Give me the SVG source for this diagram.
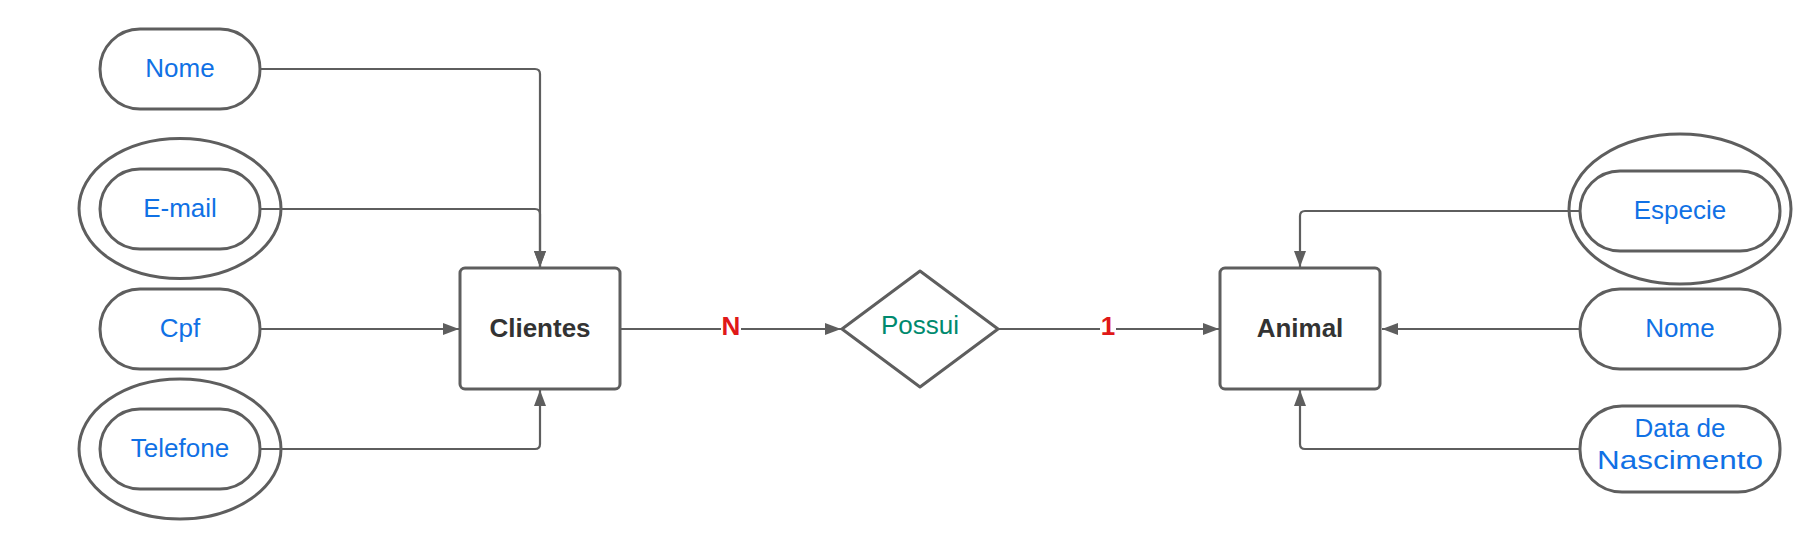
<svg xmlns="http://www.w3.org/2000/svg" width="1812" height="539" viewBox="0 0 1812 539">
<style>
.shape{fill:#fff;stroke:#5e5e5e;stroke-width:3}
.ring{fill:none;stroke:#5e5e5e;stroke-width:3}
.conn{fill:none;stroke:#5e5e5e;stroke-width:2.2}
.attr{font-family:"Liberation Sans",Arial,sans-serif;font-size:26px;fill:#1071e5;text-anchor:middle}
.ent{font-family:"Liberation Sans",Arial,sans-serif;font-size:26px;font-weight:bold;fill:#333;text-anchor:middle}
.rel{font-family:"Liberation Sans",Arial,sans-serif;font-size:26px;fill:#008a6e;text-anchor:middle}
.card{font-family:"Liberation Sans",Arial,sans-serif;font-size:26px;font-weight:bold;fill:#e01818;text-anchor:middle}
</style>
<defs>
<marker id="arr" markerUnits="userSpaceOnUse" markerWidth="17" markerHeight="13" refX="16" refY="6.5" orient="auto">
<path d="M0,0.5 L16,6.5 L0,12.5 z" fill="#5e5e5e"/>
</marker>
</defs>
<g id="connectors">
<path class="conn" d="M260 69 H535 Q540 69 540 74 V267" marker-end="url(#arr)"/>
<path class="conn" d="M260 209 H535 Q540 209 540 214 V267" marker-end="url(#arr)"/>
<path class="conn" d="M260 329 H459" marker-end="url(#arr)"/>
<path class="conn" d="M260 449 H535 Q540 449 540 444 V390" marker-end="url(#arr)"/>
<path class="conn" d="M620 329 H841" marker-end="url(#arr)"/>
<path class="conn" d="M998 329 H1219" marker-end="url(#arr)"/>
<path class="conn" d="M1580 211 H1305 Q1300 211 1300 216 V267" marker-end="url(#arr)"/>
<path class="conn" d="M1580 329 H1382" marker-end="url(#arr)"/>
<path class="conn" d="M1580 449 H1305 Q1300 449 1300 444 V390" marker-end="url(#arr)"/>
<rect x="721" y="312" width="20" height="26" fill="#fff"/>
<text class="card" x="731" y="335">N</text>
<rect x="1100" y="312" width="16" height="26" fill="#fff"/>
<text class="card" x="1108" y="335">1</text>
</g>
<g id="nome-cliente">
<rect class="shape" x="100" y="29" width="160" height="80" rx="40"/>
<text class="attr" x="180" y="77">Nome</text>
</g>
<g id="email">
<ellipse class="ring" cx="180" cy="208.5" rx="101" ry="70"/>
<rect class="shape" x="100" y="169" width="160" height="80" rx="40"/>
<text class="attr" x="180" y="217">E-mail</text>
</g>
<g id="cpf">
<rect class="shape" x="100" y="289" width="160" height="80" rx="40"/>
<text class="attr" x="180" y="337">Cpf</text>
</g>
<g id="telefone">
<ellipse class="ring" cx="180" cy="449" rx="101" ry="70"/>
<rect class="shape" x="100" y="409" width="160" height="80" rx="40"/>
<text class="attr" x="180" y="457">Telefone</text>
</g>
<g id="clientes">
<rect class="shape" x="460" y="268" width="160" height="121" rx="5"/>
<text class="ent" x="540" y="337">Clientes</text>
</g>
<g id="possui">
<path class="shape" stroke-linejoin="round" d="M920 271 L998 329 L920 387 L842 329 Z"/>
<text class="rel" x="920" y="334">Possui</text>
</g>
<g id="animal">
<rect class="shape" x="1220" y="268" width="160" height="121" rx="5"/>
<text class="ent" x="1300" y="337">Animal</text>
</g>
<g id="especie">
<ellipse class="ring" cx="1680" cy="209" rx="111" ry="75"/>
<rect class="shape" x="1580" y="171" width="200" height="80" rx="40"/>
<text class="attr" x="1680" y="219">Especie</text>
</g>
<g id="nome-animal">
<rect class="shape" x="1580" y="289" width="200" height="80" rx="40"/>
<text class="attr" x="1680" y="337">Nome</text>
</g>
<g id="data-nascimento">
<rect class="shape" x="1580" y="406" width="200" height="86" rx="42"/>
<text class="attr" x="1680" y="437">Data de</text>
<text class="attr" x="1680" y="469" textLength="166" lengthAdjust="spacingAndGlyphs">Nascimento</text>
</g>
</svg>
